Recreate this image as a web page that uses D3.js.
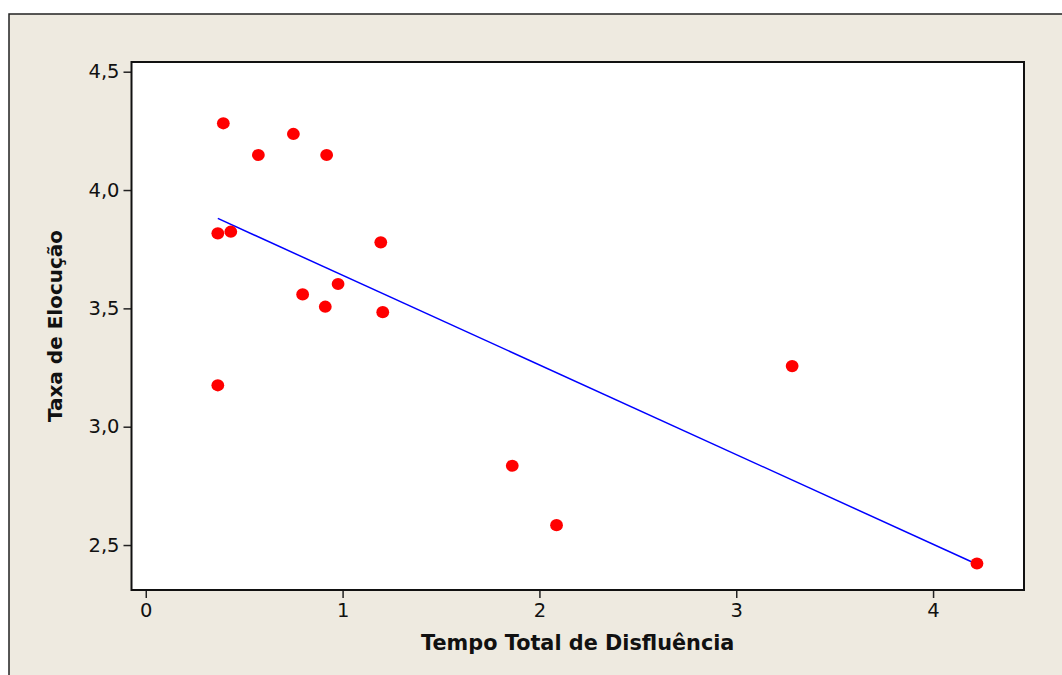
<!DOCTYPE html>
<html><head><meta charset="utf-8">
<script src="https://cdn.jsdelivr.net/npm/d3@7"></script>
<style>
html,body{margin:0;padding:0;background:#fff;}
svg{display:block;}
</style></head>
<body>
<svg id="chart" width="1062" height="675"></svg>
<script>
// Data
const tempoDisfluencia = [0.394, 0.750, 0.572, 0.919, 0.366, 0.432, 1.194, 0.797, 0.977, 0.912, 1.204, 0.366, 3.284, 1.862, 2.087, 4.223];
const taxaElocucao     = [4.282, 4.237, 4.148, 4.148, 3.817, 3.824, 3.779, 3.559, 3.603, 3.507, 3.484, 3.175, 3.256, 2.835, 2.584, 2.422];
const fitX = [0.366, 4.223];
const fitY = [3.880, 2.419];
const xTicks = [0, 1, 2, 3, 4];
const yTicks = [2.5, 3.0, 3.5, 4.0, 4.5];
const xTitle = "Tempo Total de Disfluência";
const yTitle = "Taxa de Elocução";

const svg = d3.select("#chart");
const W = 1062, H = 675;
const plot = {left: 131.5, right: 1024, top: 62, bottom: 590};

// frame
svg.append("rect").attr("x", 9).attr("y", 14).attr("width", W - 9 + 5).attr("height", H - 14 + 5)
  .attr("fill", "#eeeae0").attr("stroke", "#222").attr("stroke-width", 1.5);

const x = d3.scaleLinear().domain([-0.0725, 4.462]).range([plot.left, plot.right]);
const y = d3.scaleLinear().domain([2.31, 4.541]).range([plot.bottom, plot.top]);

svg.append("rect").attr("x", plot.left).attr("y", plot.top)
  .attr("width", plot.right - plot.left).attr("height", plot.bottom - plot.top)
  .attr("fill", "#fff");

const fontT = "Tahoma, 'DejaVu Sans', Verdana, sans-serif";
const fmt = d => d3.format(".1f")(d).replace(".", ",");

// x axis
const xAxis = d3.axisBottom(x).tickValues(xTicks).tickSize(8).tickPadding(5).tickFormat(d3.format("d"));
const gx = svg.append("g").attr("transform", `translate(0,${plot.bottom})`).call(xAxis);
gx.select(".domain").remove();
gx.selectAll("line").attr("stroke", "#222").attr("stroke-width", 1.5);
gx.selectAll("text").attr("font-family", fontT).attr("font-size", 19.5).attr("fill", "#111");

// y axis
const yAxis = d3.axisLeft(y).tickValues(yTicks).tickSize(8).tickPadding(4).tickFormat(fmt);
const gy = svg.append("g").attr("transform", `translate(${plot.left},0)`).call(yAxis);
gy.select(".domain").remove();
gy.selectAll("line").attr("stroke", "#222").attr("stroke-width", 1.5);
gy.selectAll("text").attr("font-family", fontT).attr("font-size", 19.5).attr("fill", "#111");

// plot border
svg.append("rect").attr("x", plot.left).attr("y", plot.top)
  .attr("width", plot.right - plot.left).attr("height", plot.bottom - plot.top)
  .attr("fill", "none").attr("stroke", "#111").attr("stroke-width", 2);

// fit line
svg.append("line")
  .attr("x1", x(fitX[0])).attr("y1", y(fitY[0]))
  .attr("x2", x(fitX[1])).attr("y2", y(fitY[1]))
  .attr("stroke", "#0000ff").attr("stroke-width", 1.5);

// points
svg.append("g").selectAll("ellipse").data(tempoDisfluencia.map((d, i) => [d, taxaElocucao[i]]))
  .join("ellipse")
  .attr("cx", d => x(d[0])).attr("cy", d => y(d[1]))
  .attr("rx", 6.4).attr("ry", 6.1)
  .attr("fill", "#ff0000");

// titles
svg.append("text").attr("x", (plot.left + plot.right) / 2).attr("y", 650)
  .attr("text-anchor", "middle").attr("font-family", fontT).attr("font-weight", "bold")
  .attr("font-size", 20.8).attr("fill", "#111").text(xTitle);

svg.append("text").attr("transform", `translate(62,${(plot.top + plot.bottom) / 2}) rotate(-90)`)
  .attr("text-anchor", "middle").attr("font-family", fontT).attr("font-weight", "bold")
  .attr("font-size", 20).attr("fill", "#111").text(yTitle);
</script>
</body></html>
